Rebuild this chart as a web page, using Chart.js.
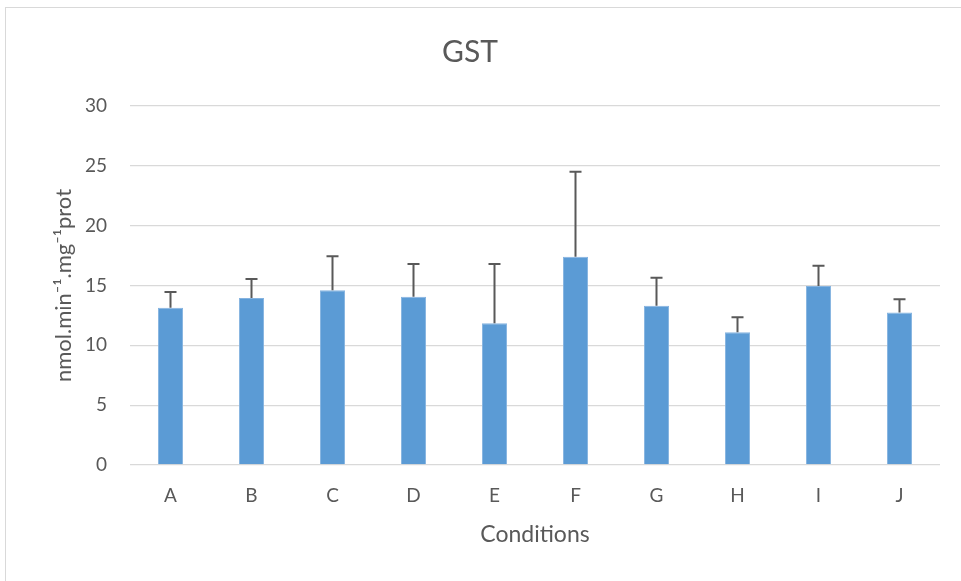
<!DOCTYPE html>
<html>
<head>
<meta charset="utf-8">
<script src="https://cdn.jsdelivr.net/npm/chart.js@4"></script>
<style>
  body { margin: 0; background: #fff; }
  #frame { position: absolute; left: 5px; top: 7px; width: 970px; height: 590px; border: 1px solid #d9d9d9; }
  #wrap { position: absolute; left: 0; top: 0; width: 961px; height: 581px; }
</style>
</head>
<body>
<div id="frame"></div>
<div id="wrap"><canvas id="myChart" width="961" height="581"></canvas></div>
<script>
const conditions = ["A", "B", "C", "D", "E", "F", "G", "H", "I", "J"];
const gstMeans = [13.15, 13.95, 14.6, 14.05, 11.85, 17.4, 13.3, 11.1, 14.95, 12.75];
const gstErrors = [1.3, 1.6, 2.85, 2.75, 4.95, 7.1, 2.35, 1.25, 1.7, 1.1];
const yTicks = [0, 5, 10, 15, 20, 25, 30];

const textColor = '#595959';
const fontFamily = 'Lato, "Open Sans", sans-serif';

// error bars drawn on top of the bars
const errorBars = {
    id: 'errorBars',
    afterDatasetsDraw(chart) {
        const ctx = chart.ctx;
        const yScale = chart.scales.y;
        const meta = chart.getDatasetMeta(0);
        ctx.save();
        ctx.strokeStyle = textColor;
        ctx.lineWidth = 2;
        meta.data.forEach((bar, i) => {
            const top = yScale.getPixelForValue(gstMeans[i] + gstErrors[i]);
            ctx.beginPath();
            ctx.moveTo(bar.x, bar.y);
            ctx.lineTo(bar.x, top);
            ctx.moveTo(bar.x - 6, top);
            ctx.lineTo(bar.x + 6, top);
            ctx.stroke();
        });
        ctx.restore();
    }
};

const data = {
    labels: conditions,
    datasets: [{
        label: 'GST',
        data: gstMeans,
        backgroundColor: '#5b9bd5',
        borderColor: '#85b3e0',
        borderWidth: 1,
        barPercentage: 0.31,
        categoryPercentage: 1
    }]
};

const config = {
    type: 'bar',
    data: data,
    options: {
        responsive: false,
        animation: false,
        layout: {
            padding: { left: 0, right: 21, top: 0, bottom: 0 }
        },
        plugins: {
            legend: { display: false },
            tooltip: { enabled: false },
            title: {
                display: true,
                text: 'GST',
                color: textColor,
                font: { family: fontFamily, size: 30, weight: 'normal' },
                padding: { top: 34.7, bottom: 35.3 }
            }
        },
        scales: {
            x: {
                afterFit(scale) { scale.height = 116; },
                grid: { display: false, drawTicks: false },
                border: { display: false },
                ticks: {
                    color: textColor,
                    padding: 19.6,
                    font: { family: fontFamily, size: 19 }
                },
                title: {
                    display: true,
                    text: 'Conditions',
                    color: textColor,
                    font: { family: fontFamily, size: 23 },
                    padding: { top: 10, bottom: 32.2 }
                }
            },
            y: {
                min: 0,
                max: 30,
                afterFit(scale) { scale.width = 130; },
                afterBuildTicks(scale) { scale.ticks = yTicks.map(v => ({ value: v })); },
                grid: { color: '#d9d9d9', lineWidth: 1.3, drawTicks: false },
                border: { display: false },
                ticks: {
                    color: textColor,
                    padding: 23,
                    font: { family: fontFamily, size: 19 }
                },
                title: {
                    display: true,
                    text: 'nmol.min⁻¹.mg⁻¹prot',
                    color: textColor,
                    font: { family: fontFamily, size: 22 },
                    padding: { top: 50.8, bottom: 0 }
                }
            }
        }
    },
    plugins: [errorBars]
};

const myChart = new Chart(document.getElementById('myChart'), config);
</script>
</body>
</html>
